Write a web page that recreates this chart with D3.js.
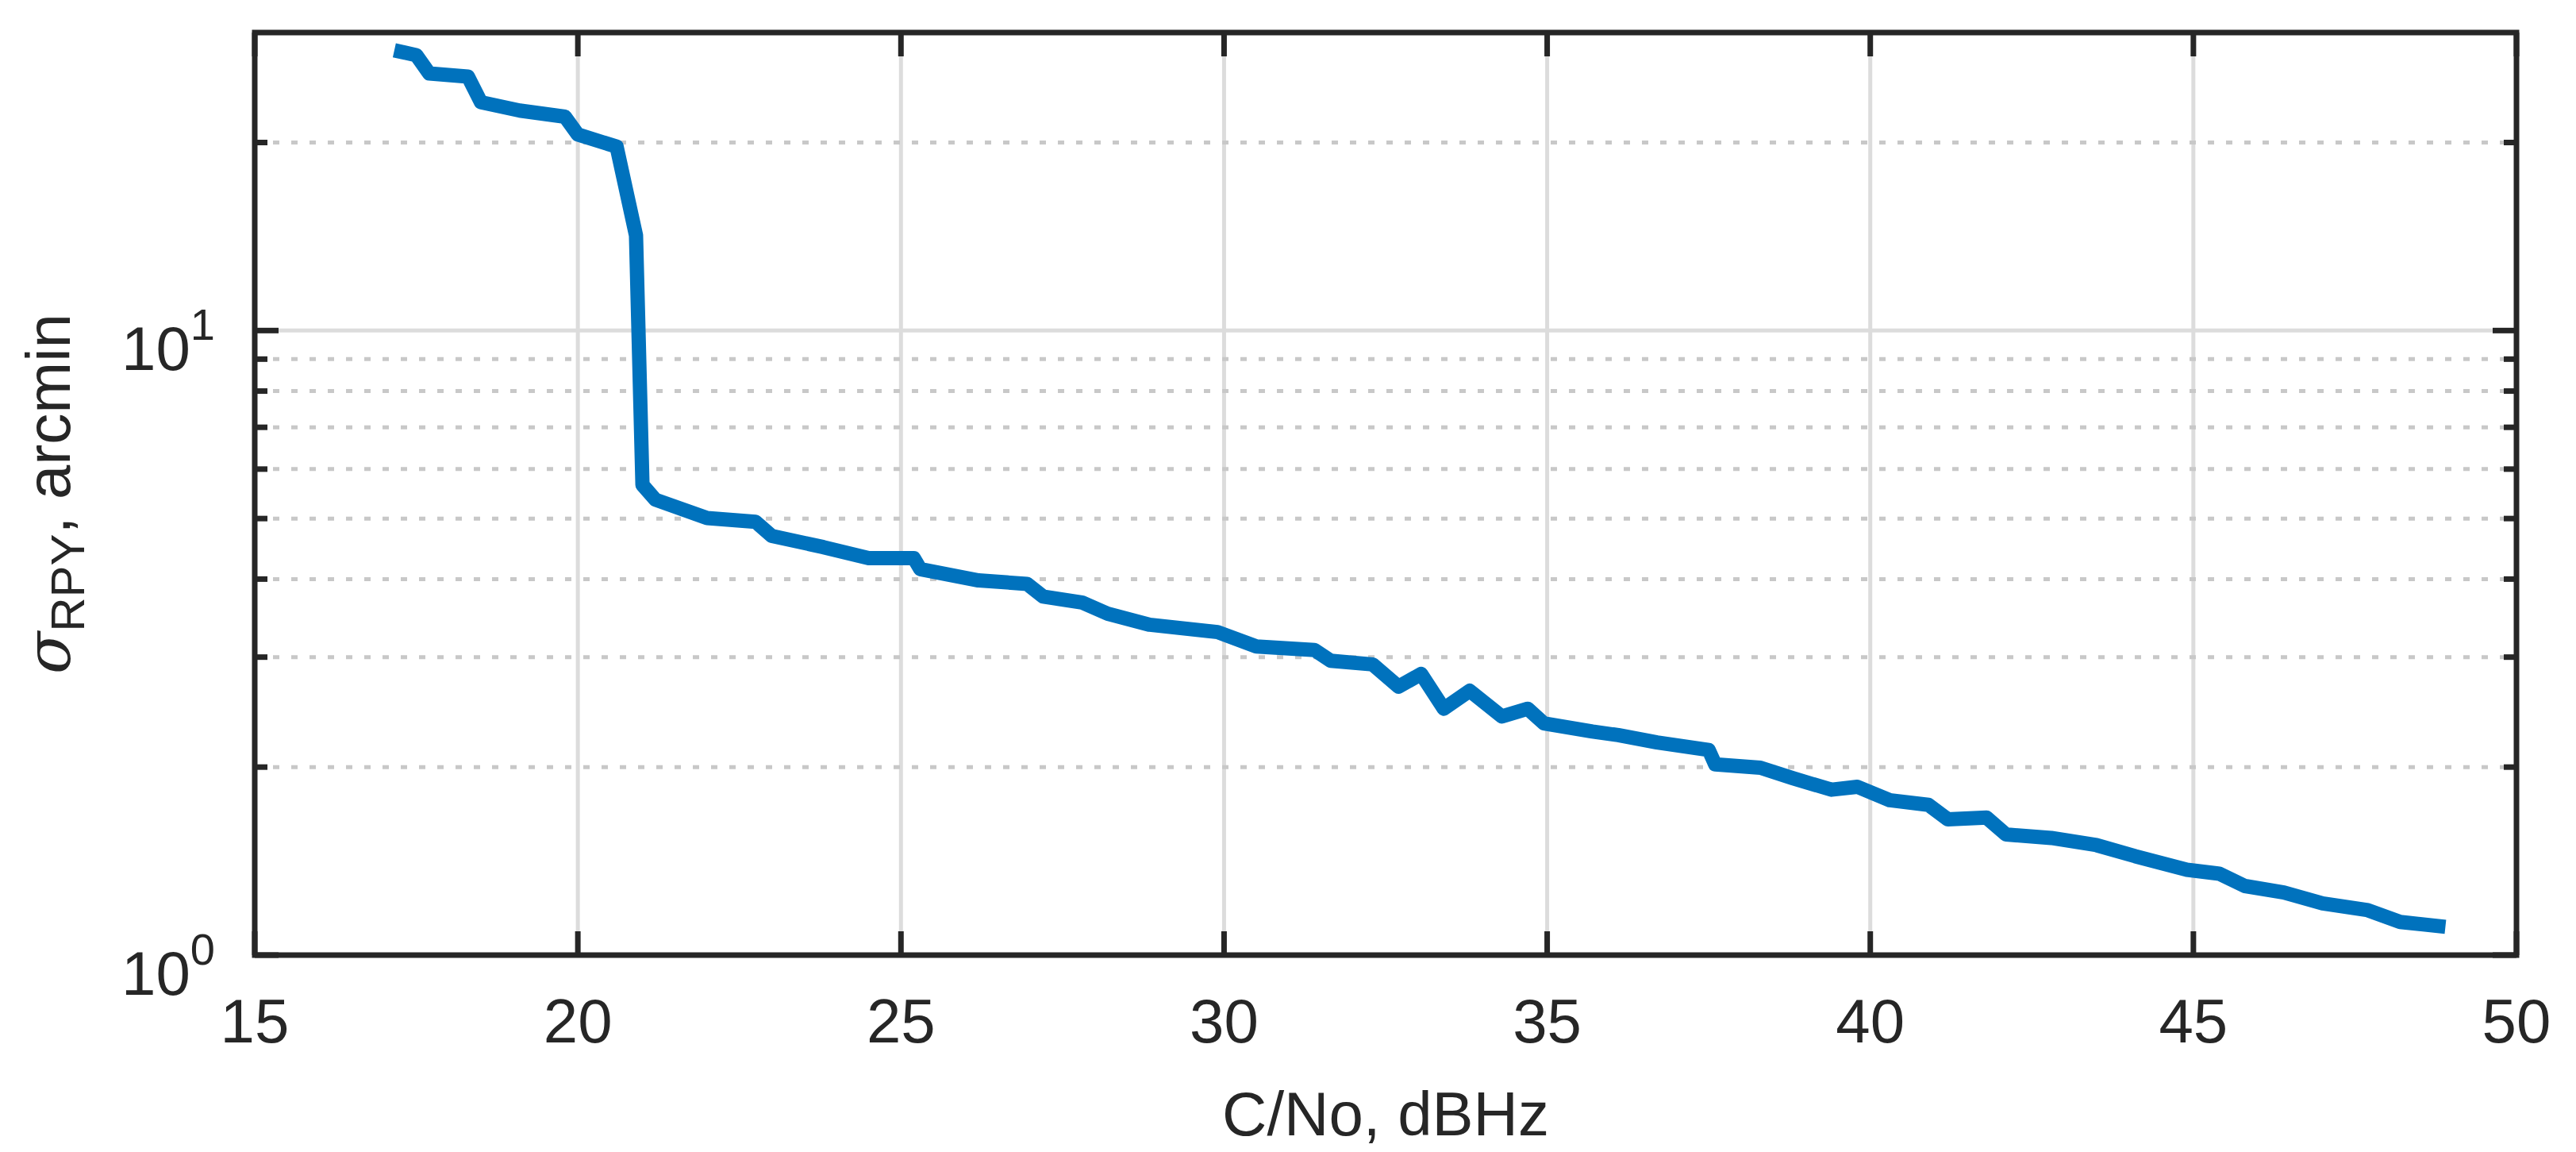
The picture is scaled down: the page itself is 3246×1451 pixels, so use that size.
<!DOCTYPE html>
<html>
<head>
<meta charset="utf-8">
<script src="https://cdn.jsdelivr.net/npm/d3@7"></script>
<style>
  body { margin: 0; background: #fff; }
  text { font-family: "Liberation Sans", Arial, sans-serif; fill: #262626; }
</style>
</head>
<body>
<svg width="3246" height="1451"></svg>
<script>
// C/No (dBHz) and sigma RPY (arcmin)
const cno = [17.16, 17.5, 17.7, 18.3, 18.5, 19.1, 19.8, 20.0, 20.6, 20.9, 21.0, 21.2, 22.0, 22.75, 23.0, 23.8, 24.5, 25.2, 25.3, 26.2, 26.95, 27.2, 27.8, 28.2, 28.85, 29.9, 30.5, 31.4, 31.65, 32.3, 32.7, 33.05, 33.4, 33.8, 34.3, 34.7, 34.95, 35.7, 36.1, 36.7, 37.5, 37.6, 38.3, 38.8, 39.4, 39.8, 40.3, 40.9, 41.2, 41.8, 42.1, 42.8, 43.5, 44.1, 44.9, 45.4, 45.8, 46.4, 47.0, 47.7, 48.2, 48.9];
const sigma = [28.1, 27.6, 25.8, 25.5, 23.2, 22.5, 22.0, 20.6, 19.7, 14.2, 5.66, 5.36, 5.01, 4.94, 4.69, 4.50, 4.32, 4.32, 4.15, 3.98, 3.93, 3.75, 3.67, 3.52, 3.38, 3.29, 3.12, 3.08, 2.96, 2.92, 2.69, 2.82, 2.48, 2.65, 2.41, 2.48, 2.35, 2.28, 2.25, 2.19, 2.13, 2.02, 1.995, 1.92, 1.84, 1.86, 1.77, 1.74, 1.65, 1.66, 1.56, 1.54, 1.50, 1.44, 1.37, 1.35, 1.29, 1.26, 1.21, 1.18, 1.13, 1.11];
const xTicks = [15, 20, 25, 30, 35, 40, 45, 50];
const yMajor = [1, 10];
const yMinor = [2, 3, 4, 5, 6, 7, 8, 9, 20];

const svg = d3.select('svg');
const L = 321, R = 3171, T = 41, B = 1203;

const x = d3.scaleLinear().domain([15, 50]).range([L, R]);
const y = d3.scaleLog().domain([1, 30]).range([B, T]);

const grid = svg.append('g');
// vertical grid
grid.selectAll('.vg').data(xTicks.slice(1, -1)).enter().append('line')
    .attr('x1', d => x(d)).attr('x2', d => x(d))
    .attr('y1', T).attr('y2', B)
    .attr('stroke', '#dcdcdc').attr('stroke-width', 5);
// minor horizontal grid (dotted)
grid.selectAll('.mg').data(yMinor).enter().append('line')
    .attr('x1', L).attr('x2', R)
    .attr('y1', d => y(d)).attr('y2', d => y(d))
    .attr('stroke', '#c8c8c8').attr('stroke-width', 5)
    .attr('stroke-dasharray', '8 15');
// major horizontal grid
grid.append('line')
    .attr('x1', L).attr('x2', R).attr('y1', y(10)).attr('y2', y(10))
    .attr('stroke', '#dcdcdc').attr('stroke-width', 5);

// data line
const line = d3.line().x((d, i) => x(cno[i])).y(d => y(d));
svg.append('path').datum(sigma)
    .attr('d', line)
    .attr('fill', 'none')
    .attr('stroke', '#0072BD')
    .attr('stroke-width', 18)
    .attr('stroke-linejoin', 'round');

// ticks (inward, both sides)
const tk = svg.append('g').attr('stroke', '#262626').attr('stroke-width', 7);
xTicks.forEach(d => {
    tk.append('line').attr('x1', x(d)).attr('x2', x(d)).attr('y1', B).attr('y2', B - 30);
    tk.append('line').attr('x1', x(d)).attr('x2', x(d)).attr('y1', T).attr('y2', T + 30);
});
yMajor.forEach(d => {
    tk.append('line').attr('x1', L).attr('x2', L + 30).attr('y1', y(d)).attr('y2', y(d));
    tk.append('line').attr('x1', R).attr('x2', R - 30).attr('y1', y(d)).attr('y2', y(d));
});
yMinor.forEach(d => {
    tk.append('line').attr('x1', L).attr('x2', L + 16).attr('y1', y(d)).attr('y2', y(d));
    tk.append('line').attr('x1', R).attr('x2', R - 16).attr('y1', y(d)).attr('y2', y(d));
});

// box
svg.append('rect')
    .attr('x', L).attr('y', T).attr('width', R - L).attr('height', B - T)
    .attr('fill', 'none').attr('stroke', '#262626').attr('stroke-width', 7);

// x tick labels
svg.selectAll('.xl').data(xTicks).enter().append('text')
    .attr('x', d => x(d)).attr('y', B + 110)
    .attr('text-anchor', 'middle').attr('font-size', 78)
    .text(d => d);

// y tick labels
yMajor.forEach((d, i) => {
    const t = svg.append('text')
        .attr('x', L - 50).attr('y', y(d) + 50)
        .attr('text-anchor', 'end').attr('font-size', 78);
    t.append('tspan').text('10');
    t.append('tspan').attr('font-size', 56).attr('dy', -38).text(i);
});

// axis labels
svg.append('text')
    .attr('x', (L + R) / 2).attr('y', 1430)
    .attr('text-anchor', 'middle').attr('font-size', 78)
    .text('C/No, dBHz');

const yl = svg.append('text')
    .attr('transform', `translate(88, ${(T + B) / 2}) rotate(-90)`)
    .attr('text-anchor', 'middle').attr('font-size', 78);
yl.append('tspan').attr('font-style', 'italic').attr('font-family', '"DejaVu Serif", serif').text('σ');
yl.append('tspan').attr('font-size', 60).attr('dy', 18).text('RPY');
yl.append('tspan').attr('dy', -18).text(', arcmin');
</script>
</body>
</html>
